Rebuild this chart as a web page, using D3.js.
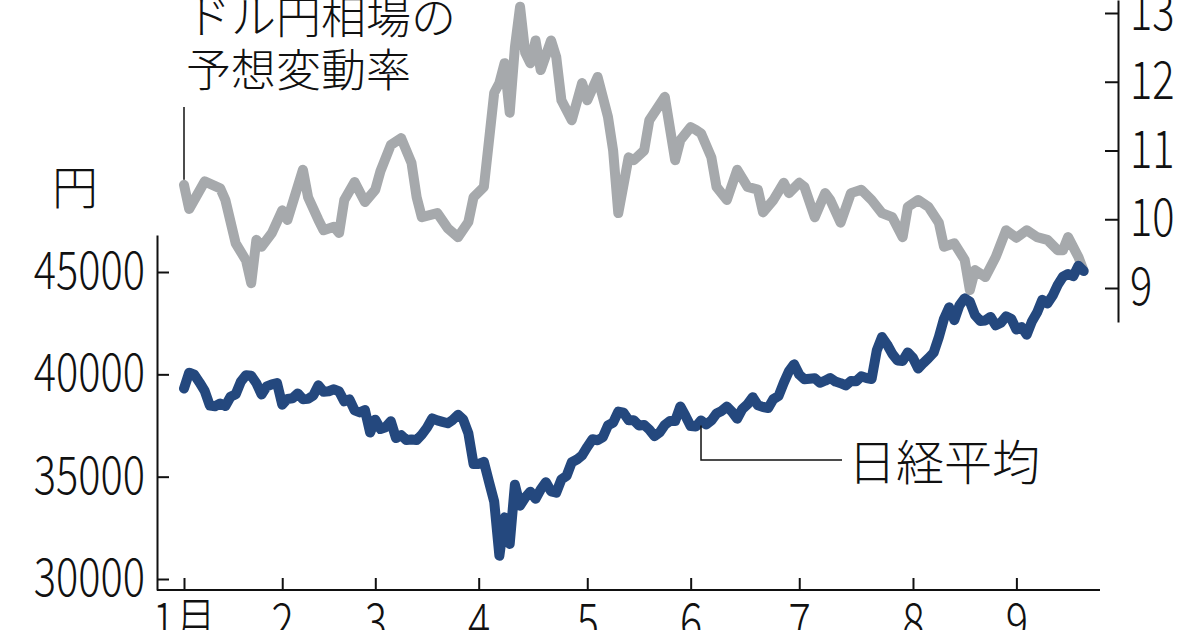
<!DOCTYPE html>
<html><head><meta charset="utf-8">
<script src="https://cdn.jsdelivr.net/npm/d3@7"></script>
<style>
body{margin:0;background:#fff}
svg{display:block}
text{font-family:"Noto Sans CJK JP","Noto Sans",sans-serif;fill:#111}
</style>
</head><body>
<svg id="c" width="1200" height="630"></svg>
<script>
const tradingDays = [
"1/6","1/7","1/8","1/9","1/10","1/14","1/15","1/16","1/17","1/20","1/21","1/22","1/23","1/24","1/27","1/28","1/29","1/30","1/31",
"2/3","2/4","2/5","2/6","2/7","2/10","2/12","2/13","2/14","2/17","2/18","2/19","2/20","2/21","2/25","2/26","2/27","2/28",
"3/3","3/4","3/5","3/6","3/7","3/10","3/11","3/12","3/13","3/14","3/17","3/18","3/19","3/21","3/24","3/25","3/26","3/27","3/28","3/31",
"4/1","4/2","4/3","4/4","4/7","4/8","4/9","4/10","4/11","4/14","4/15","4/16","4/17","4/18","4/21","4/22","4/23","4/24","4/25","4/28","4/30",
"5/1","5/2","5/7","5/8","5/9","5/12","5/13","5/14","5/15","5/16","5/19","5/20","5/21","5/22","5/23","5/26","5/27","5/28","5/29","5/30",
"6/2","6/3","6/4","6/5","6/6","6/9","6/10","6/11","6/12","6/13","6/16","6/17","6/18","6/19","6/20","6/23","6/24","6/25","6/26","6/27","6/30",
"7/1","7/2","7/3","7/4","7/7","7/8","7/9","7/10","7/11","7/14","7/15","7/16","7/17","7/18","7/22","7/23","7/24","7/25","7/28","7/29","7/30","7/31",
"8/1","8/4","8/5","8/6","8/7","8/8","8/12","8/13","8/14","8/15","8/18","8/19","8/20","8/21","8/22","8/25","8/26","8/27","8/28","8/29",
"9/1","9/2","9/3","9/4","9/5","9/8","9/9","9/10","9/11","9/12","9/16","9/17","9/18","9/19"];

const nikkei = [
39307,40083,39981,39605,39190,38474,38445,38572,38451,38902,39027,39646,39958,39931,39565,39016,39414,39513,39572,
38520,38798,38831,39066,38787,38801,38963,39461,39149,39174,39270,39164,38678,38776,38237,38142,38256,37155,
37785,37331,37418,37704,36887,37028,36793,36819,36790,37053,37396,37845,37751,37677,37608,37780,38027,37799,37120,35617,
35624,35725,34735,33780,31136,33012,31714,34609,33585,33982,34267,33920,34377,34730,34279,34220,34868,35039,35705,35839,36045,
36452,36830,36780,36928,37503,37644,38183,38128,37755,37753,37498,37529,37298,36985,37160,37531,37724,37722,38432,37965,
37470,37446,37747,37554,37741,38088,38211,38421,38173,37834,38311,38536,38885,38488,38403,38354,38790,38942,39584,40150,40487,
39986,39762,39785,39810,39587,39688,39821,39646,39569,39459,39678,39663,39901,39819,39774,41171,41826,41456,40998,40674,40654,41069,
40799,40290,40549,40794,41059,41820,42718,43274,42649,43378,43714,43546,42888,42610,42633,42807,42394,42520,42829,42718,
42188,42310,41938,42580,43018,43643,43459,43837,44372,44768,44902,44790,45303,45045];

const volDates = [
"1/6","1/7","1/10","1/16","1/17","1/21","1/23","1/24","1/27","1/28","1/30",
"2/3","2/4","2/7","2/10","2/13","2/14","2/18","2/19","2/20","2/25","2/27",
"3/3","3/4","3/6","3/10","3/12","3/13","3/14","3/19","3/24","3/26","3/28","3/31",
"4/2","4/3","4/4","4/7","4/8","4/9","4/10","4/11","4/14","4/15","4/16","4/17","4/21","4/22","4/23","4/25","4/30",
"5/1","5/7","5/9","5/12","5/13","5/15","5/16","5/20","5/21","5/26","5/28","5/29",
"6/2","6/3","6/4","6/6","6/9","6/11","6/13","6/17","6/19","6/20","6/24","6/26","6/27",
"7/1","7/2","7/4","7/8","7/9","7/11","7/15","7/17","7/22","7/24","7/28","7/30","7/31",
"8/4","8/6","8/8","8/12","8/14","8/18","8/19","8/20","8/22","8/26","8/28",
"9/1","9/3","9/5","9/9","9/11","9/12","9/16","9/18","9/19"];

const volValues = [
10.5,10.15,10.55,10.45,10.28,9.65,9.4,9.07,9.7,9.6,9.8,
10.13,9.99,10.72,10.32,9.99,9.84,9.89,9.8,10.28,10.54,10.25,
10.43,10.7,11.08,11.18,10.82,10.32,10.03,10.09,9.87,9.74,9.96,10.32,
10.47,11.15,11.84,11.98,12.27,11.55,12.5,13.09,12.42,12.27,12.6,12.17,12.6,12.36,11.73,11.44,11.98,
11.73,12.07,11.49,11.0,10.09,10.9,10.86,11.0,11.44,11.78,10.86,11.15,
11.34,11.3,11.25,10.9,10.47,10.28,10.72,10.47,10.43,10.1,10.28,10.53,10.38,
10.53,10.47,10.03,10.38,10.28,9.95,10.38,10.43,10.28,10.09,10.03,9.74,10.18,
10.28,10.18,9.95,9.6,9.65,9.41,8.97,9.26,9.16,9.45,9.84,
9.73,9.84,9.74,9.7,9.55,9.55,9.74,9.45,9.25];

const monthStarts = ["1/6","2/3","3/3","4/1","5/1","6/2","7/1","8/1","9/1"];
const monthLabels = ["1月","2","3","4","5","6","7","8","9"];
const nikkeiTicks = [30000,35000,40000,45000];
const volTicks = [9,10,11,12,13];

const svg = d3.select("#c");
const x = d3.scalePoint().domain(tradingDays).range([184,1083.6]);
const yL = d3.scaleLinear().domain([29463,46808]).range([590,235]);
const yR = d3.scaleLinear().domain([8.5055,13.189]).range([322,0]);

const sx = 0.8; // condensed digits
const gL = svg.append("g").attr("transform","translate(157,0)")
  .call(d3.axisLeft(yL).tickValues(nikkeiTicks).tickFormat(d3.format("d"))
    .tickSizeInner(-12).tickSizeOuter(0).tickPadding(12));
const gR = svg.append("g").attr("transform","translate(1118,0)")
  .call(d3.axisRight(yR).tickValues(volTicks).tickFormat(d3.format("d"))
    .tickSizeInner(-13).tickSizeOuter(0).tickPadding(12));
const gB = svg.append("g").attr("transform","translate(0,590)")
  .call(d3.axisBottom(x).tickValues(monthStarts).tickFormat((d,i)=>monthLabels[i])
    .tickSizeInner(-12).tickSizeOuter(0).tickPadding(10));
gB.select(".domain").remove();
svg.append("line").attr("x1",157).attr("x2",1100).attr("y1",590).attr("y2",590)
  .attr("stroke","#111").attr("stroke-width",2);

[gL,gR,gB].forEach(g=>{
  g.selectAll(".domain").attr("stroke","#111").attr("stroke-width",2);
  g.selectAll(".tick line").attr("stroke","#111").attr("stroke-width",2);
  g.selectAll(".tick text").attr("font-family",'"Noto Sans CJK JP",sans-serif')
    .attr("font-size",52).attr("font-weight",300).attr("fill","#111");
});
gL.selectAll(".tick text").attr("transform",`scale(${sx},1)`).attr("x",-12/sx);
gR.selectAll(".tick text").attr("transform",`scale(${sx},1)`).attr("x",12/sx);
gB.selectAll(".tick text").attr("transform",`scale(${sx},1)`).attr("dy","0.78em");

const volData = volDates.map((d,i)=>({d, v:volValues[i]}));
const nkData = tradingDays.map((d,i)=>({d, v:nikkei[i]}));
svg.append("path").datum(volData)
  .attr("d", d3.line().x(p=>x(p.d)).y(p=>yR(p.v)))
  .attr("fill","none").attr("stroke","#a6a9ac").attr("stroke-width",10)
  .attr("stroke-linejoin","round").attr("stroke-linecap","round");
svg.append("path").datum(nkData)
  .attr("d", d3.line().x(p=>x(p.d)).y(p=>yL(p.v)))
  .attr("fill","none").attr("stroke","#24487e").attr("stroke-width",10)
  .attr("stroke-linejoin","round").attr("stroke-linecap","round");

const x0 = x(tradingDays[0]);
svg.append("line").attr("x1",x0).attr("x2",x0).attr("y1",107).attr("y2",yR(volValues[0])-5)
  .attr("stroke","#111").attr("stroke-width",1.5);
const title = svg.append("text").attr("font-size",45).attr("font-weight",300);
title.append("tspan").attr("x",186).attr("y",34).text("ドル円相場の");
title.append("tspan").attr("x",186).attr("y",87).text("予想変動率");
svg.append("text").attr("x",52).attr("y",204).attr("font-size",46).attr("font-weight",300).text("円");

const xa = x("6/4");
const ya = yL(nikkei[tradingDays.indexOf("6/4")]) + 5;
svg.append("path").attr("d",`M${xa},${ya}V460H842`).attr("fill","none")
  .attr("stroke","#111").attr("stroke-width",1.5);
svg.append("text").attr("x",848).attr("y",480).attr("font-size",48).attr("font-weight",300).text("日経平均");
</script>
</body></html>
